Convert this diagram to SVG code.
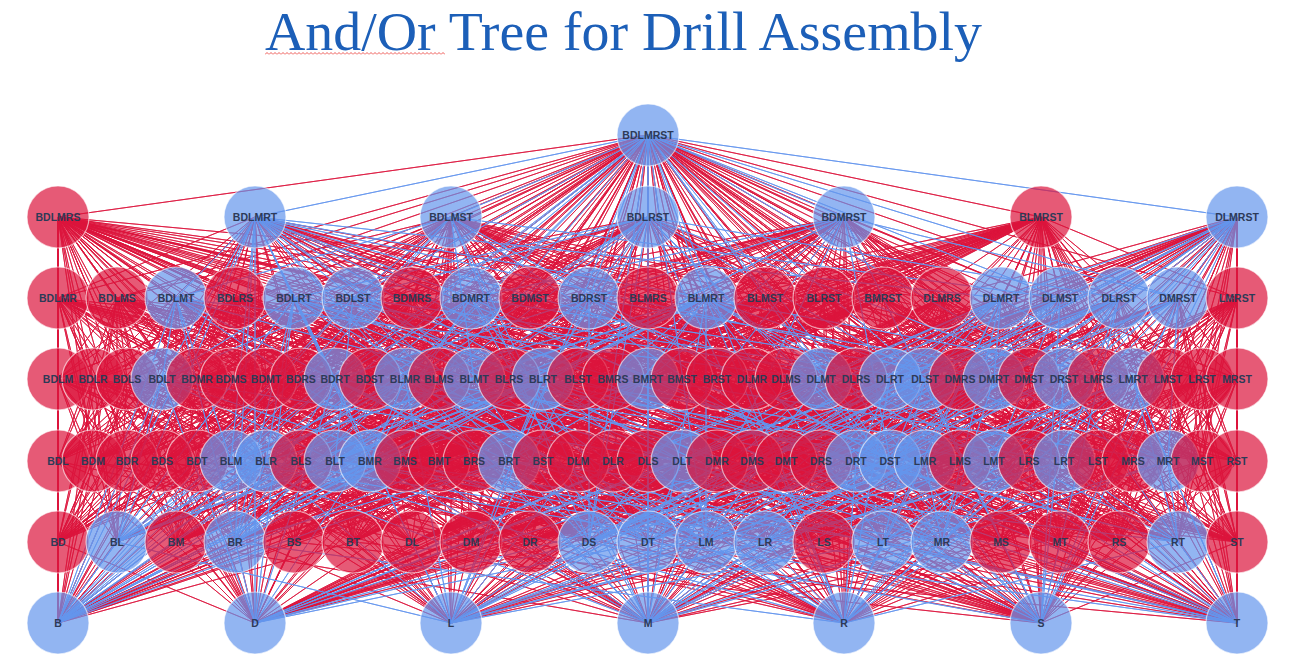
<svg xmlns="http://www.w3.org/2000/svg" width="1291" height="669" viewBox="0 0 1291 669">
<defs>
<style>
path.r{fill:none;stroke:#dc143c;stroke-width:1;stroke-opacity:.8;stroke-linejoin:round}
path.b{fill:none;stroke:#6495ed;stroke-width:1;stroke-opacity:.85;stroke-linejoin:round}
g.nr circle{fill:#dc143c;fill-opacity:.7;stroke:#fff;stroke-opacity:.6;stroke-width:1.2}
g.nb circle{fill:#6495ed;fill-opacity:.7;stroke:#fff;stroke-opacity:.6;stroke-width:1.2}
#labels text{font-family:"Liberation Sans",Arial,sans-serif;font-weight:bold;font-size:10.5px;fill:#2d3a57;text-anchor:middle}
.title{font-family:"Liberation Serif","Times New Roman",serif;font-size:55px;fill:#1c5fb8}
</style>
<pattern id="sq" x="265" y="52" width="4" height="3" patternUnits="userSpaceOnUse"><path d="M0 2.5L2 0.5L4 2.5" fill="none" stroke="#e8302a" stroke-width=".8"/></pattern>
</defs>
<rect width="1291" height="669" fill="#fff"/>
<g id="title">
<text class="title" x="265" y="50" textLength="717" lengthAdjust="spacingAndGlyphs">And/Or Tree for Drill Assembly</text>
<rect x="265" y="52" width="180" height="3" fill="url(#sq)"/>
</g>
<g id="connectors">
<path class="r" d="M648 135L58 217ZL1041 217ZL58 298ZL117 298ZL176 298ZL235 298ZL294 298ZL412 298ZL471 298ZL530 298ZL648 298ZL765 298ZL824 298ZL883 298ZL942 298ZL1001 298ZL1119 298ZL1237 298ZL58 379ZL93 379ZL127 379ZL162 379ZL197 379ZL231 379ZL266 379ZL301 379ZL335 379ZL370 379ZL439 379ZL474 379ZL509 379ZL543 379ZL578 379ZL613 379ZL648 379ZL682 379ZL717 379ZL752 379ZL786 379ZL821 379ZL856 379ZL890 379ZL960 379ZL994 379ZL1029 379ZL1098 379ZL1133 379ZL1168 379ZL1202 379ZL1237 379ZL58 461ZL93 461ZL127 461ZL162 461ZL197 461ZL266 461ZL301 461ZL335 461ZL405 461ZL439 461ZL474 461ZL509 461ZL543 461ZL578 461ZL613 461ZL648 461ZL682 461ZL717 461ZL752 461ZL786 461ZL821 461ZL856 461ZL925 461ZL960 461ZL994 461ZL1029 461ZL1064 461ZL1098 461ZL1133 461ZL1168 461ZL1202 461ZL1237 461ZL58 542ZL176 542ZL294 542ZL353 542ZL412 542ZL471 542ZL530 542ZL648 542ZL765 542ZL824 542ZL883 542ZL1001 542ZL1060 542ZL1119 542ZL1178 542ZL1237 542ZL255 623ZL1237 623Z"/>
<path class="r" d="M58 217L58 298ZL117 298ZL235 298ZL412 298ZL648 298ZL942 298ZL58 379ZL93 379ZL127 379ZL197 379ZL231 379ZL301 379ZL405 379ZL439 379ZL509 379ZL613 379ZL752 379ZL786 379ZL856 379ZL960 379ZL1098 379ZL58 461ZL93 461ZL127 461ZL162 461ZL231 461ZL266 461ZL301 461ZL370 461ZL405 461ZL474 461ZL578 461ZL613 461ZL648 461ZL717 461ZL752 461ZL821 461ZL925 461ZL960 461ZL1029 461ZL1133 461ZL58 542ZL117 542ZL176 542ZL235 542ZL294 542ZL412 542ZL471 542ZL530 542ZL589 542ZL706 542ZL765 542ZL824 542ZL942 542ZL1001 542ZL1119 542ZL58 623ZL255 623ZL451 623ZL648 623ZL844 623ZL1041 623Z
M1041 217L648 298ZL706 298ZL765 298ZL824 298ZL883 298ZL1237 298ZL405 379ZL439 379ZL474 379ZL509 379ZL543 379ZL578 379ZL613 379ZL648 379ZL682 379ZL717 379ZL1098 379ZL1133 379ZL1168 379ZL1202 379ZL1237 379ZL231 461ZL266 461ZL301 461ZL335 461ZL370 461ZL405 461ZL439 461ZL474 461ZL509 461ZL543 461ZL925 461ZL960 461ZL994 461ZL1029 461ZL1064 461ZL1098 461ZL1133 461ZL1168 461ZL1202 461ZL1237 461ZL117 542ZL176 542ZL235 542ZL294 542ZL353 542ZL706 542ZL765 542ZL824 542ZL883 542ZL942 542ZL1001 542ZL1060 542ZL1119 542ZL1178 542ZL1237 542ZL58 623ZL451 623ZL648 623ZL844 623ZL1041 623ZL1237 623Z
M255 217L58 298ZL58 379ZL93 379ZL197 379ZL266 379ZL474 379ZL543 379ZL648 379ZL752 379ZL890 379ZL1133 379ZL58 461ZL93 461ZL127 461ZL197 461ZL266 461ZL335 461ZL439 461ZL509 461ZL578 461ZL613 461ZL717 461ZL786 461ZL925 461ZL994 461ZL1064 461ZL1168 461ZL58 542ZL176 542ZL353 542ZL412 542ZL471 542ZL530 542ZL765 542ZL883 542ZL1060 542ZL1178 542ZL1237 623Z
M451 217L117 298ZL530 298ZL765 298ZL58 379ZL127 379ZL162 379ZL231 379ZL266 379ZL370 379ZL439 379ZL578 379ZL682 379ZL786 379ZL821 379ZL925 379ZL1029 379ZL1168 379ZL58 461ZL93 461ZL162 461ZL197 461ZL301 461ZL335 461ZL405 461ZL439 461ZL543 461ZL578 461ZL648 461ZL682 461ZL752 461ZL786 461ZL960 461ZL994 461ZL1098 461ZL1202 461ZL58 542ZL117 542ZL176 542ZL294 542ZL353 542ZL412 542ZL471 542ZL648 542ZL706 542ZL824 542ZL883 542ZL1001 542ZL1060 542ZL1237 542ZL255 623ZL451 623ZL1237 623Z
M648 217L235 298ZL824 298ZL93 379ZL127 379ZL162 379ZL301 379ZL335 379ZL370 379ZL509 379ZL578 379ZL717 379ZL856 379ZL890 379ZL1202 379ZL58 461ZL127 461ZL162 461ZL197 461ZL301 461ZL335 461ZL474 461ZL509 461ZL543 461ZL613 461ZL648 461ZL682 461ZL821 461ZL856 461ZL1029 461ZL1064 461ZL1098 461ZL1237 461ZL58 542ZL294 542ZL353 542ZL412 542ZL530 542ZL648 542ZL765 542ZL824 542ZL883 542ZL1119 542ZL1178 542ZL1237 542ZL255 623ZL1237 623Z
M844 217L412 298ZL530 298ZL883 298ZL197 379ZL231 379ZL266 379ZL301 379ZL335 379ZL370 379ZL613 379ZL682 379ZL717 379ZL960 379ZL994 379ZL1029 379ZL1064 379ZL1237 379ZL93 461ZL127 461ZL162 461ZL197 461ZL405 461ZL439 461ZL474 461ZL509 461ZL543 461ZL717 461ZL752 461ZL786 461ZL821 461ZL856 461ZL1133 461ZL1168 461ZL1202 461ZL1237 461ZL58 542ZL176 542ZL235 542ZL294 542ZL353 542ZL471 542ZL530 542ZL648 542ZL942 542ZL1001 542ZL1060 542ZL1119 542ZL1178 542ZL1237 542ZL255 623ZL844 623ZL1237 623Z
M1237 217L942 298ZL1237 298ZL752 379ZL786 379ZL821 379ZL856 379ZL890 379ZL960 379ZL994 379ZL1029 379ZL1098 379ZL1168 379ZL1202 379ZL1237 379ZL578 461ZL613 461ZL648 461ZL682 461ZL717 461ZL752 461ZL786 461ZL821 461ZL856 461ZL960 461ZL994 461ZL1029 461ZL1064 461ZL1098 461ZL1133 461ZL1168 461ZL1202 461ZL1237 461ZL412 542ZL471 542ZL530 542ZL648 542ZL765 542ZL824 542ZL883 542ZL1001 542ZL1060 542ZL1119 542ZL1178 542ZL1237 542ZL255 623ZL1237 623Z"/>
<path class="r" d="M58 298L58 379ZL93 379ZL197 379ZL405 379ZL752 379ZL58 461ZL93 461ZL127 461ZL231 461ZL266 461ZL370 461ZL578 461ZL613 461ZL717 461ZL925 461ZL58 542ZL117 542ZL176 542ZL235 542ZL412 542ZL471 542ZL530 542ZL706 542ZL765 542ZL942 542ZL58 623ZL255 623ZL451 623ZL648 623ZL844 623Z
M117 298L58 379ZL127 379ZL231 379ZL439 379ZL786 379ZL58 461ZL93 461ZL162 461ZL231 461ZL301 461ZL405 461ZL578 461ZL648 461ZL752 461ZL960 461ZL58 542ZL117 542ZL176 542ZL294 542ZL412 542ZL471 542ZL589 542ZL706 542ZL824 542ZL1001 542ZL58 623ZL255 623ZL451 623ZL648 623ZL1041 623Z
M176 298L58 379ZL266 379ZL58 461ZL93 461ZL197 461ZL335 461ZL439 461ZL578 461ZL682 461ZL786 461ZL994 461ZL58 542ZL117 542ZL176 542ZL353 542ZL412 542ZL471 542ZL706 542ZL883 542ZL1060 542ZL451 623ZL1237 623Z
M235 298L93 379ZL127 379ZL301 379ZL509 379ZL856 379ZL58 461ZL127 461ZL162 461ZL266 461ZL301 461ZL474 461ZL613 461ZL648 461ZL821 461ZL1029 461ZL58 542ZL117 542ZL235 542ZL294 542ZL412 542ZL530 542ZL589 542ZL765 542ZL824 542ZL1119 542ZL58 623ZL255 623ZL451 623ZL844 623ZL1041 623Z
M294 298L93 379ZL58 461ZL127 461ZL197 461ZL335 461ZL509 461ZL613 461ZL1064 461ZL58 542ZL353 542ZL412 542ZL530 542ZL765 542ZL883 542ZL1178 542ZL1237 623Z
M353 298L127 379ZL370 379ZL578 379ZL58 461ZL162 461ZL197 461ZL301 461ZL543 461ZL648 461ZL682 461ZL1098 461ZL58 542ZL294 542ZL353 542ZL412 542ZL648 542ZL824 542ZL883 542ZL1237 542ZL255 623ZL451 623ZL1237 623Z
M412 298L197 379ZL231 379ZL301 379ZL613 379ZL960 379ZL93 461ZL127 461ZL162 461ZL370 461ZL405 461ZL474 461ZL717 461ZL752 461ZL821 461ZL1133 461ZL58 542ZL176 542ZL235 542ZL294 542ZL471 542ZL530 542ZL589 542ZL942 542ZL1001 542ZL1119 542ZL58 623ZL255 623ZL648 623ZL844 623ZL1041 623Z
M471 298L197 379ZL266 379ZL93 461ZL127 461ZL197 461ZL439 461ZL509 461ZL717 461ZL786 461ZL856 461ZL1168 461ZL58 542ZL176 542ZL235 542ZL353 542ZL471 542ZL530 542ZL942 542ZL1060 542ZL1178 542ZL844 623ZL1237 623Z
M530 298L231 379ZL266 379ZL370 379ZL682 379ZL1029 379ZL93 461ZL162 461ZL197 461ZL405 461ZL439 461ZL543 461ZL752 461ZL786 461ZL890 461ZL1202 461ZL58 542ZL176 542ZL294 542ZL353 542ZL471 542ZL589 542ZL648 542ZL1001 542ZL1060 542ZL1237 542ZL58 623ZL255 623ZL648 623ZL1041 623ZL1237 623Z
M589 298L301 379ZL370 379ZL717 379ZL127 461ZL162 461ZL197 461ZL474 461ZL543 461ZL821 461ZL856 461ZL1237 461ZL58 542ZL294 542ZL353 542ZL530 542ZL648 542ZL1119 542ZL1178 542ZL1237 542ZL255 623ZL844 623ZL1237 623Z
M648 298L405 379ZL439 379ZL509 379ZL613 379ZL1098 379ZL231 461ZL266 461ZL301 461ZL370 461ZL405 461ZL474 461ZL925 461ZL960 461ZL1029 461ZL1133 461ZL117 542ZL176 542ZL235 542ZL294 542ZL706 542ZL765 542ZL824 542ZL942 542ZL1001 542ZL1119 542ZL58 623ZL451 623ZL648 623ZL844 623ZL1041 623Z
M706 298L266 461ZL439 461ZL925 461ZL1064 461ZL176 542ZL353 542ZL765 542ZL1060 542Z
M765 298L439 379ZL474 379ZL578 379ZL682 379ZL1168 379ZL231 461ZL301 461ZL335 461ZL405 461ZL439 461ZL543 461ZL960 461ZL994 461ZL1098 461ZL1202 461ZL117 542ZL176 542ZL294 542ZL353 542ZL706 542ZL824 542ZL883 542ZL1001 542ZL1060 542ZL1237 542ZL58 623ZL451 623ZL648 623ZL1041 623ZL1237 623Z
M824 298L509 379ZL543 379ZL578 379ZL717 379ZL1202 379ZL266 461ZL301 461ZL335 461ZL474 461ZL509 461ZL543 461ZL1029 461ZL1064 461ZL1098 461ZL1237 461ZL117 542ZL235 542ZL294 542ZL353 542ZL765 542ZL824 542ZL883 542ZL1119 542ZL1178 542ZL1237 542ZL58 623ZL451 623ZL844 623ZL1041 623ZL1237 623Z
M883 298L613 379ZL648 379ZL682 379ZL717 379ZL1237 379ZL370 461ZL405 461ZL439 461ZL474 461ZL509 461ZL543 461ZL1133 461ZL1168 461ZL1202 461ZL1237 461ZL176 542ZL235 542ZL294 542ZL353 542ZL942 542ZL1001 542ZL1060 542ZL1119 542ZL1178 542ZL1237 542ZL58 623ZL648 623ZL844 623ZL1041 623ZL1237 623Z
M942 298L752 379ZL786 379ZL856 379ZL960 379ZL1098 379ZL578 461ZL613 461ZL648 461ZL717 461ZL752 461ZL821 461ZL925 461ZL960 461ZL1029 461ZL1133 461ZL412 542ZL471 542ZL530 542ZL589 542ZL706 542ZL765 542ZL824 542ZL942 542ZL1001 542ZL1119 542ZL255 623ZL451 623ZL648 623ZL844 623ZL1041 623Z
M1001 298L752 379ZL578 461ZL613 461ZL717 461ZL786 461ZL994 461ZL1064 461ZL1168 461ZL412 542ZL471 542ZL530 542ZL765 542ZL883 542ZL1060 542ZL1178 542ZL1237 623Z
M1060 298L786 379ZL1029 379ZL1168 379ZL578 461ZL648 461ZL682 461ZL752 461ZL786 461ZL960 461ZL1098 461ZL1202 461ZL412 542ZL471 542ZL648 542ZL824 542ZL883 542ZL1001 542ZL1060 542ZL1237 542ZL255 623ZL451 623ZL1237 623Z
M1119 298L856 379ZL1202 379ZL613 461ZL648 461ZL682 461ZL821 461ZL856 461ZL1029 461ZL1098 461ZL1237 461ZL412 542ZL530 542ZL648 542ZL824 542ZL883 542ZL1119 542ZL1178 542ZL1237 542ZL255 623ZL1237 623Z
M1178 298L960 379ZL1029 379ZL1237 379ZL717 461ZL752 461ZL786 461ZL821 461ZL856 461ZL1133 461ZL1202 461ZL1237 461ZL471 542ZL530 542ZL648 542ZL1001 542ZL1060 542ZL1119 542ZL1178 542ZL1237 542ZL255 623ZL844 623ZL1237 623Z
M1237 298L1098 379ZL1133 379ZL1168 379ZL1202 379ZL1237 379ZL925 461ZL960 461ZL994 461ZL1029 461ZL1064 461ZL1098 461ZL1133 461ZL1168 461ZL1202 461ZL1237 461ZL706 542ZL765 542ZL824 542ZL883 542ZL942 542ZL1001 542ZL1060 542ZL1119 542ZL1178 542ZL1237 542ZL451 623ZL648 623ZL844 623ZL1041 623ZL1237 623Z"/>
<path class="r" d="M58 379L58 461ZL93 461ZL231 461ZL578 461ZL58 542ZL117 542ZL176 542ZL412 542ZL471 542ZL706 542ZL58 623ZL255 623ZL451 623ZL648 623Z
M93 379L58 461ZL127 461ZL266 461ZL613 461ZL58 542ZL117 542ZL235 542ZL412 542ZL530 542ZL765 542ZL58 623ZL255 623ZL451 623ZL844 623Z
M127 379L58 461ZL162 461ZL301 461ZL648 461ZL58 542ZL117 542ZL294 542ZL412 542ZL589 542ZL824 542ZL58 623ZL255 623ZL451 623ZL1041 623Z
M162 379L58 461ZL197 461ZL58 542ZL883 542ZL353 542ZL412 542ZL1237 623ZL451 623Z
M197 379L93 461ZL127 461ZL370 461ZL717 461ZL58 542ZL176 542ZL235 542ZL471 542ZL530 542ZL942 542ZL58 623ZL255 623ZL648 623ZL844 623Z
M231 379L93 461ZL162 461ZL405 461ZL752 461ZL58 542ZL176 542ZL294 542ZL471 542ZL589 542ZL1001 542ZL58 623ZL255 623ZL648 623ZL1041 623Z
M266 379L93 461ZL197 461ZL439 461ZL786 461ZL58 542ZL176 542ZL353 542ZL471 542ZL648 542ZL1060 542ZL58 623ZL255 623ZL648 623ZL1237 623Z
M301 379L127 461ZL162 461ZL474 461ZL821 461ZL58 542ZL235 542ZL294 542ZL530 542ZL589 542ZL1119 542ZL58 623ZL255 623ZL844 623ZL1041 623Z
M335 379L127 461ZL197 461ZL58 542ZL1178 542ZL353 542ZL530 542ZL1237 623ZL844 623Z
M370 379L162 461ZL197 461ZL543 461ZL890 461ZL58 542ZL294 542ZL353 542ZL589 542ZL648 542ZL1237 542ZL58 623ZL255 623ZL1041 623ZL1237 623Z
M405 379L176 542ZL765 542Z
M439 379L231 461ZL301 461ZL405 461ZL960 461ZL117 542ZL176 542ZL294 542ZL706 542ZL824 542ZL1001 542ZL58 623ZL451 623ZL648 623ZL1041 623Z
M474 379L439 461ZL117 542ZL1060 542ZL176 542ZL883 542ZL353 542ZL706 542ZL451 623Z
M509 379L266 461ZL301 461ZL474 461ZL1029 461ZL117 542ZL235 542ZL294 542ZL765 542ZL824 542ZL1119 542ZL58 623ZL451 623ZL844 623ZL1041 623Z
M543 379L353 542ZL765 542Z
M578 379L301 461ZL335 461ZL543 461ZL1098 461ZL117 542ZL294 542ZL353 542ZL824 542ZL883 542ZL1237 542ZL58 623ZL451 623ZL1041 623ZL1237 623Z
M613 379L370 461ZL405 461ZL474 461ZL1133 461ZL176 542ZL235 542ZL294 542ZL942 542ZL1001 542ZL1119 542ZL58 623ZL648 623ZL844 623ZL1041 623Z
M648 379L439 461ZL176 542ZL1178 542ZL235 542ZL1060 542ZL353 542ZL942 542ZL844 623Z
M682 379L405 461ZL439 461ZL543 461ZL1202 461ZL176 542ZL294 542ZL353 542ZL1001 542ZL1060 542ZL1237 542ZL58 623ZL648 623ZL1041 623ZL1237 623Z
M717 379L474 461ZL509 461ZL543 461ZL1237 461ZL235 542ZL294 542ZL353 542ZL1119 542ZL1178 542ZL1237 542ZL58 623ZL844 623ZL1041 623ZL1237 623Z
M752 379L578 461ZL613 461ZL717 461ZL925 461ZL412 542ZL471 542ZL530 542ZL706 542ZL765 542ZL942 542ZL255 623ZL451 623ZL648 623ZL844 623Z
M786 379L578 461ZL648 461ZL752 461ZL960 461ZL412 542ZL471 542ZL589 542ZL706 542ZL824 542ZL1001 542ZL255 623ZL451 623ZL648 623ZL1041 623Z
M821 379L578 461ZL786 461ZL412 542ZL1060 542ZL471 542ZL883 542ZL1237 623ZL451 623Z
M856 379L613 461ZL648 461ZL821 461ZL1029 461ZL412 542ZL530 542ZL589 542ZL765 542ZL824 542ZL1119 542ZL255 623ZL451 623ZL844 623ZL1041 623Z
M890 379L613 461ZL412 542ZL1178 542ZL530 542ZL883 542ZL1237 623Z
M925 379L648 461ZL1098 461ZL412 542ZL1237 542ZL648 542ZL824 542ZL1237 623ZL255 623Z
M960 379L717 461ZL752 461ZL821 461ZL1133 461ZL471 542ZL530 542ZL589 542ZL942 542ZL1001 542ZL1119 542ZL255 623ZL648 623ZL844 623ZL1041 623Z
M994 379L717 461ZL786 461ZL471 542ZL1178 542ZL530 542ZL1060 542ZL1237 623ZL844 623Z
M1029 379L752 461ZL786 461ZL890 461ZL1202 461ZL471 542ZL589 542ZL648 542ZL1001 542ZL1060 542ZL1237 542ZL255 623ZL648 623ZL1041 623ZL1237 623Z
M1064 379L821 461ZL1237 461ZL530 542ZL1237 542ZL648 542ZL1119 542ZL1237 623ZL255 623Z
M1098 379L925 461ZL960 461ZL1029 461ZL1133 461ZL706 542ZL765 542ZL824 542ZL942 542ZL1001 542ZL1119 542ZL451 623ZL648 623ZL844 623ZL1041 623Z
M1133 379L765 542ZL1060 542Z
M1168 379L960 461ZL994 461ZL1098 461ZL1202 461ZL706 542ZL824 542ZL883 542ZL1001 542ZL1060 542ZL1237 542ZL451 623ZL648 623ZL1041 623ZL1237 623Z
M1202 379L1029 461ZL1064 461ZL1098 461ZL1237 461ZL765 542ZL824 542ZL883 542ZL1119 542ZL1178 542ZL1237 542ZL451 623ZL844 623ZL1041 623ZL1237 623Z
M1237 379L1133 461ZL1168 461ZL1202 461ZL1237 461ZL942 542ZL1001 542ZL1060 542ZL1119 542ZL1178 542ZL1237 542ZL648 623ZL844 623ZL1041 623ZL1237 623Z"/>
<path class="r" d="M58 461L58 542ZL117 542ZL412 542ZL58 623ZL255 623ZL451 623ZM93 461L58 542ZL176 542ZL471 542ZL58 623ZL255 623ZL648 623ZM127 461L58 542ZL235 542ZL530 542ZL58 623ZL255 623ZL844 623ZM162 461L58 542ZL294 542ZL589 542ZL58 623ZL255 623ZL1041 623ZM197 461L58 542ZL353 542ZL648 542ZL58 623ZL255 623ZL1237 623ZM231 461L176 542ZL451 623ZM301 461L117 542ZL294 542ZL824 542ZL58 623ZL451 623ZL1041 623ZM335 461L353 542ZL451 623ZM370 461L176 542ZL844 623ZM405 461L176 542ZL294 542ZL1001 542ZL58 623ZL648 623ZL1041 623ZM439 461L176 542ZL353 542ZL1060 542ZL58 623ZL648 623ZL1237 623ZM474 461L235 542ZL294 542ZL1119 542ZL58 623ZL844 623ZL1041 623ZM509 461L353 542ZL844 623ZM543 461L294 542ZL353 542ZL1237 542ZL58 623ZL1041 623ZL1237 623ZM578 461L412 542ZL471 542ZL706 542ZL255 623ZL451 623ZL648 623ZM613 461L412 542ZL530 542ZL765 542ZL255 623ZL451 623ZL844 623ZM648 461L412 542ZL589 542ZL824 542ZL255 623ZL451 623ZL1041 623ZM682 461L412 542ZL1237 623ZM717 461L471 542ZL530 542ZL942 542ZL255 623ZL648 623ZL844 623ZM752 461L471 542ZL589 542ZL1001 542ZL255 623ZL648 623ZL1041 623ZM786 461L471 542ZL648 542ZL1060 542ZL255 623ZL648 623ZL1237 623ZM821 461L530 542ZL589 542ZL1119 542ZL255 623ZL844 623ZL1041 623ZM856 461L530 542ZL1237 623ZM890 461L1237 542ZL255 623ZM960 461L706 542ZL824 542ZL1001 542ZL451 623ZL648 623ZL1041 623ZM994 461L1060 542ZL451 623ZM1029 461L765 542ZL824 542ZL1119 542ZL451 623ZL844 623ZL1041 623ZM1098 461L824 542ZL883 542ZL1237 542ZL451 623ZL1041 623ZL1237 623ZM1133 461L942 542ZL1001 542ZL1119 542ZL648 623ZL844 623ZL1041 623ZM1168 461L1060 542ZL844 623ZM1202 461L1001 542ZL1060 542ZL1237 542ZL648 623ZL1041 623ZL1237 623ZM1237 461L1119 542ZL1178 542ZL1237 542ZL844 623ZL1041 623ZL1237 623Z"/>
<path class="r" d="M58 542L58 623ZL255 623ZM176 542L58 623ZL648 623ZM294 542L58 623ZL1041 623ZM353 542L58 623ZL1237 623ZM412 542L255 623ZL451 623ZM471 542L255 623ZL648 623ZM530 542L255 623ZL844 623ZM824 542L451 623ZL1041 623ZM1001 542L648 623ZL1041 623ZM1060 542L648 623ZL1237 623ZM1119 542L844 623ZL1041 623ZM1237 542L1041 623ZL1237 623Z"/>
<path class="b" d="M648 135L255 217ZL451 217ZL648 217ZL844 217ZL1237 217ZL353 298ZL589 298ZL706 298ZL1060 298ZL1178 298ZL405 379ZL925 379ZL1064 379ZL231 461ZL370 461ZL890 461ZL117 542ZL235 542ZL589 542ZL706 542ZL942 542ZL58 623ZL451 623ZL648 623ZL844 623ZL1041 623Z"/>
<path class="b" d="M255 217L176 298ZL294 298ZL471 298ZL706 298ZL1001 298ZL162 379ZL335 379ZL405 379ZL821 379ZL994 379ZL231 461ZL370 461ZL682 461ZL856 461ZL117 542ZL235 542ZL648 542ZL706 542ZL942 542ZL58 623ZL255 623ZL451 623ZL648 623ZL844 623Z
M451 217L176 298ZL353 298ZL1060 298ZL474 379ZL231 461ZL890 461ZL589 542ZL58 623ZL648 623ZL1041 623Z
M648 217L294 298ZL353 298ZL589 298ZL1119 298ZL543 379ZL925 379ZL1064 379ZL266 461ZL890 461ZL117 542ZL235 542ZL589 542ZL58 623ZL451 623ZL844 623ZL1041 623Z
M844 217L471 298ZL589 298ZL1178 298ZL648 379ZL370 461ZL890 461ZL589 542ZL58 623ZL648 623ZL1041 623Z
M1237 217L1001 298ZL1060 298ZL1119 298ZL1178 298ZL925 379ZL1064 379ZL1133 379ZL890 461ZL925 461ZL589 542ZL706 542ZL942 542ZL451 623ZL648 623ZL844 623ZL1041 623Z"/>
<path class="b" d="M176 298L162 379ZL474 379ZL821 379ZL231 461ZL648 542ZL58 623ZL255 623ZL648 623Z
M294 298L162 379ZL335 379ZL543 379ZL890 379ZL266 461ZL682 461ZL856 461ZL117 542ZL235 542ZL648 542ZL58 623ZL255 623ZL451 623ZL844 623Z
M353 298L162 379ZL925 379ZL335 461ZL890 461ZL117 542ZL589 542ZL58 623ZL1041 623Z
M471 298L335 379ZL648 379ZL994 379ZL370 461ZL648 542ZL58 623ZL255 623ZL648 623Z
M589 298L335 379ZL1064 379ZL509 461ZL890 461ZL235 542ZL589 542ZL58 623ZL1041 623Z
M706 298L405 379ZL474 379ZL543 379ZL648 379ZL1133 379ZL231 461ZL335 461ZL370 461ZL509 461ZL994 461ZL1168 461ZL117 542ZL235 542ZL706 542ZL883 542ZL942 542ZL1178 542ZL58 623ZL451 623ZL648 623ZL844 623ZL1237 623Z
M1001 298L821 379ZL890 379ZL994 379ZL1133 379ZL682 461ZL856 461ZL925 461ZL648 542ZL706 542ZL942 542ZL255 623ZL451 623ZL648 623ZL844 623Z
M1060 298L821 379ZL925 379ZL890 461ZL994 461ZL589 542ZL706 542ZL648 623ZL1041 623Z
M1119 298L890 379ZL925 379ZL1064 379ZL890 461ZL1064 461ZL589 542ZL765 542ZL451 623ZL844 623ZL1041 623Z
M1178 298L994 379ZL1064 379ZL890 461ZL1168 461ZL589 542ZL942 542ZL648 623ZL1041 623Z"/>
<path class="b" d="M162 379L335 461ZL682 461ZL117 542ZL648 542ZL255 623ZL58 623Z
M335 379L509 461ZL856 461ZL235 542ZL648 542ZL255 623ZL58 623Z
M405 379L231 461ZL266 461ZL370 461ZL925 461ZL117 542ZL942 542ZL235 542ZL706 542ZL844 623ZL648 623ZL451 623ZL58 623Z
M474 379L231 461ZL335 461ZL994 461ZL1237 623ZL648 623ZL58 623Z
M543 379L266 461ZL335 461ZL509 461ZL1064 461ZL117 542ZL1178 542ZL235 542ZL883 542ZL1237 623ZL844 623ZL451 623ZL58 623Z
M648 379L370 461ZL509 461ZL1168 461ZL1237 623ZL648 623ZL58 623Z
M821 379L682 461ZL994 461ZL648 542ZL706 542ZL648 623ZL255 623Z
M890 379L682 461ZL856 461ZL1064 461ZL648 542ZL765 542ZL844 623ZL451 623ZL255 623Z
M925 379L682 461ZL890 461ZL589 542ZL883 542ZL1041 623ZL451 623Z
M994 379L856 461ZL1168 461ZL648 542ZL942 542ZL648 623ZL255 623Z
M1064 379L856 461ZL890 461ZL589 542ZL1178 542ZL1041 623ZL844 623Z
M1133 379L925 461ZL994 461ZL1064 461ZL1168 461ZL706 542ZL1178 542ZL883 542ZL942 542ZL1237 623ZL844 623ZL648 623ZL451 623Z"/>
<path class="b" d="M231 461L117 542ZL706 542ZL648 623ZL58 623ZM266 461L117 542ZL235 542ZL765 542ZL844 623ZL451 623ZL58 623ZM335 461L117 542ZL883 542ZL1237 623ZL58 623ZM370 461L235 542ZL942 542ZL648 623ZL58 623ZM509 461L235 542ZL1178 542ZL1237 623ZL58 623ZM682 461L648 542ZL883 542ZL451 623ZL255 623ZM856 461L648 542ZL1178 542ZL844 623ZL255 623ZM890 461L589 542ZL648 542ZL1237 623ZL1041 623ZM925 461L706 542ZL765 542ZL942 542ZL844 623ZL648 623ZL451 623ZM994 461L706 542ZL883 542ZL1237 623ZL648 623ZM1064 461L765 542ZL883 542ZL1178 542ZL1237 623ZL844 623ZL451 623ZM1168 461L942 542ZL1178 542ZL1237 623ZL648 623Z"/>
<path class="b" d="M117 542L58 623ZL451 623ZM235 542L58 623ZL844 623ZM589 542L255 623ZL1041 623ZM648 542L255 623ZL1237 623ZM706 542L451 623ZL648 623ZM765 542L451 623ZL844 623ZM883 542L451 623ZL1237 623ZM942 542L648 623ZL844 623ZM1178 542L844 623ZL1237 623Z"/>
</g>
<g id="nodes">
<g id="n-BDLMRST" class="nb"><circle cx="648" cy="135" r="31"/></g>
<g id="n-BDLMRS" class="nr"><circle cx="58" cy="217" r="31"/></g>
<g id="n-BDLMRT" class="nb"><circle cx="255" cy="217" r="31"/></g>
<g id="n-BDLMST" class="nb"><circle cx="451" cy="217" r="31"/></g>
<g id="n-BDLRST" class="nb"><circle cx="648" cy="217" r="31"/></g>
<g id="n-BDMRST" class="nb"><circle cx="844" cy="217" r="31"/></g>
<g id="n-BLMRST" class="nr"><circle cx="1041" cy="217" r="31"/></g>
<g id="n-DLMRST" class="nb"><circle cx="1237" cy="217" r="31"/></g>
<g id="n-BDLMR" class="nr"><circle cx="58" cy="298" r="31"/></g>
<g id="n-BDLMS" class="nr"><circle cx="117" cy="298" r="31"/></g>
<g id="n-BDLMT" class="nb"><circle cx="176" cy="298" r="31"/></g>
<g id="n-BDLRS" class="nr"><circle cx="235" cy="298" r="31"/></g>
<g id="n-BDLRT" class="nb"><circle cx="294" cy="298" r="31"/></g>
<g id="n-BDLST" class="nb"><circle cx="353" cy="298" r="31"/></g>
<g id="n-BDMRS" class="nr"><circle cx="412" cy="298" r="31"/></g>
<g id="n-BDMRT" class="nb"><circle cx="471" cy="298" r="31"/></g>
<g id="n-BDMST" class="nr"><circle cx="530" cy="298" r="31"/></g>
<g id="n-BDRST" class="nb"><circle cx="589" cy="298" r="31"/></g>
<g id="n-BLMRS" class="nr"><circle cx="648" cy="298" r="31"/></g>
<g id="n-BLMRT" class="nb"><circle cx="706" cy="298" r="31"/></g>
<g id="n-BLMST" class="nr"><circle cx="765" cy="298" r="31"/></g>
<g id="n-BLRST" class="nr"><circle cx="824" cy="298" r="31"/></g>
<g id="n-BMRST" class="nr"><circle cx="883" cy="298" r="31"/></g>
<g id="n-DLMRS" class="nr"><circle cx="942" cy="298" r="31"/></g>
<g id="n-DLMRT" class="nb"><circle cx="1001" cy="298" r="31"/></g>
<g id="n-DLMST" class="nb"><circle cx="1060" cy="298" r="31"/></g>
<g id="n-DLRST" class="nb"><circle cx="1119" cy="298" r="31"/></g>
<g id="n-DMRST" class="nb"><circle cx="1178" cy="298" r="31"/></g>
<g id="n-LMRST" class="nr"><circle cx="1237" cy="298" r="31"/></g>
<g id="n-BDLM" class="nr"><circle cx="58" cy="379" r="31"/></g>
<g id="n-BDLR" class="nr"><circle cx="93" cy="379" r="31"/></g>
<g id="n-BDLS" class="nr"><circle cx="127" cy="379" r="31"/></g>
<g id="n-BDLT" class="nb"><circle cx="162" cy="379" r="31"/></g>
<g id="n-BDMR" class="nr"><circle cx="197" cy="379" r="31"/></g>
<g id="n-BDMS" class="nr"><circle cx="231" cy="379" r="31"/></g>
<g id="n-BDMT" class="nr"><circle cx="266" cy="379" r="31"/></g>
<g id="n-BDRS" class="nr"><circle cx="301" cy="379" r="31"/></g>
<g id="n-BDRT" class="nb"><circle cx="335" cy="379" r="31"/></g>
<g id="n-BDST" class="nr"><circle cx="370" cy="379" r="31"/></g>
<g id="n-BLMR" class="nb"><circle cx="405" cy="379" r="31"/></g>
<g id="n-BLMS" class="nr"><circle cx="439" cy="379" r="31"/></g>
<g id="n-BLMT" class="nb"><circle cx="474" cy="379" r="31"/></g>
<g id="n-BLRS" class="nr"><circle cx="509" cy="379" r="31"/></g>
<g id="n-BLRT" class="nb"><circle cx="543" cy="379" r="31"/></g>
<g id="n-BLST" class="nr"><circle cx="578" cy="379" r="31"/></g>
<g id="n-BMRS" class="nr"><circle cx="613" cy="379" r="31"/></g>
<g id="n-BMRT" class="nb"><circle cx="648" cy="379" r="31"/></g>
<g id="n-BMST" class="nr"><circle cx="682" cy="379" r="31"/></g>
<g id="n-BRST" class="nr"><circle cx="717" cy="379" r="31"/></g>
<g id="n-DLMR" class="nr"><circle cx="752" cy="379" r="31"/></g>
<g id="n-DLMS" class="nr"><circle cx="786" cy="379" r="31"/></g>
<g id="n-DLMT" class="nb"><circle cx="821" cy="379" r="31"/></g>
<g id="n-DLRS" class="nr"><circle cx="856" cy="379" r="31"/></g>
<g id="n-DLRT" class="nb"><circle cx="890" cy="379" r="31"/></g>
<g id="n-DLST" class="nb"><circle cx="925" cy="379" r="31"/></g>
<g id="n-DMRS" class="nr"><circle cx="960" cy="379" r="31"/></g>
<g id="n-DMRT" class="nb"><circle cx="994" cy="379" r="31"/></g>
<g id="n-DMST" class="nr"><circle cx="1029" cy="379" r="31"/></g>
<g id="n-DRST" class="nb"><circle cx="1064" cy="379" r="31"/></g>
<g id="n-LMRS" class="nr"><circle cx="1098" cy="379" r="31"/></g>
<g id="n-LMRT" class="nb"><circle cx="1133" cy="379" r="31"/></g>
<g id="n-LMST" class="nr"><circle cx="1168" cy="379" r="31"/></g>
<g id="n-LRST" class="nr"><circle cx="1202" cy="379" r="31"/></g>
<g id="n-MRST" class="nr"><circle cx="1237" cy="379" r="31"/></g>
<g id="n-BDL" class="nr"><circle cx="58" cy="461" r="31"/></g>
<g id="n-BDM" class="nr"><circle cx="93" cy="461" r="31"/></g>
<g id="n-BDR" class="nr"><circle cx="127" cy="461" r="31"/></g>
<g id="n-BDS" class="nr"><circle cx="162" cy="461" r="31"/></g>
<g id="n-BDT" class="nr"><circle cx="197" cy="461" r="31"/></g>
<g id="n-BLM" class="nb"><circle cx="231" cy="461" r="31"/></g>
<g id="n-BLR" class="nb"><circle cx="266" cy="461" r="31"/></g>
<g id="n-BLS" class="nr"><circle cx="301" cy="461" r="31"/></g>
<g id="n-BLT" class="nb"><circle cx="335" cy="461" r="31"/></g>
<g id="n-BMR" class="nb"><circle cx="370" cy="461" r="31"/></g>
<g id="n-BMS" class="nr"><circle cx="405" cy="461" r="31"/></g>
<g id="n-BMT" class="nr"><circle cx="439" cy="461" r="31"/></g>
<g id="n-BRS" class="nr"><circle cx="474" cy="461" r="31"/></g>
<g id="n-BRT" class="nb"><circle cx="509" cy="461" r="31"/></g>
<g id="n-BST" class="nr"><circle cx="543" cy="461" r="31"/></g>
<g id="n-DLM" class="nr"><circle cx="578" cy="461" r="31"/></g>
<g id="n-DLR" class="nr"><circle cx="613" cy="461" r="31"/></g>
<g id="n-DLS" class="nr"><circle cx="648" cy="461" r="31"/></g>
<g id="n-DLT" class="nb"><circle cx="682" cy="461" r="31"/></g>
<g id="n-DMR" class="nr"><circle cx="717" cy="461" r="31"/></g>
<g id="n-DMS" class="nr"><circle cx="752" cy="461" r="31"/></g>
<g id="n-DMT" class="nr"><circle cx="786" cy="461" r="31"/></g>
<g id="n-DRS" class="nr"><circle cx="821" cy="461" r="31"/></g>
<g id="n-DRT" class="nb"><circle cx="856" cy="461" r="31"/></g>
<g id="n-DST" class="nb"><circle cx="890" cy="461" r="31"/></g>
<g id="n-LMR" class="nb"><circle cx="925" cy="461" r="31"/></g>
<g id="n-LMS" class="nr"><circle cx="960" cy="461" r="31"/></g>
<g id="n-LMT" class="nb"><circle cx="994" cy="461" r="31"/></g>
<g id="n-LRS" class="nr"><circle cx="1029" cy="461" r="31"/></g>
<g id="n-LRT" class="nb"><circle cx="1064" cy="461" r="31"/></g>
<g id="n-LST" class="nr"><circle cx="1098" cy="461" r="31"/></g>
<g id="n-MRS" class="nr"><circle cx="1133" cy="461" r="31"/></g>
<g id="n-MRT" class="nb"><circle cx="1168" cy="461" r="31"/></g>
<g id="n-MST" class="nr"><circle cx="1202" cy="461" r="31"/></g>
<g id="n-RST" class="nr"><circle cx="1237" cy="461" r="31"/></g>
<g id="n-BD" class="nr"><circle cx="58" cy="542" r="31"/></g>
<g id="n-BL" class="nb"><circle cx="117" cy="542" r="31"/></g>
<g id="n-BM" class="nr"><circle cx="176" cy="542" r="31"/></g>
<g id="n-BR" class="nb"><circle cx="235" cy="542" r="31"/></g>
<g id="n-BS" class="nr"><circle cx="294" cy="542" r="31"/></g>
<g id="n-BT" class="nr"><circle cx="353" cy="542" r="31"/></g>
<g id="n-DL" class="nr"><circle cx="412" cy="542" r="31"/></g>
<g id="n-DM" class="nr"><circle cx="471" cy="542" r="31"/></g>
<g id="n-DR" class="nr"><circle cx="530" cy="542" r="31"/></g>
<g id="n-DS" class="nb"><circle cx="589" cy="542" r="31"/></g>
<g id="n-DT" class="nb"><circle cx="648" cy="542" r="31"/></g>
<g id="n-LM" class="nb"><circle cx="706" cy="542" r="31"/></g>
<g id="n-LR" class="nb"><circle cx="765" cy="542" r="31"/></g>
<g id="n-LS" class="nr"><circle cx="824" cy="542" r="31"/></g>
<g id="n-LT" class="nb"><circle cx="883" cy="542" r="31"/></g>
<g id="n-MR" class="nb"><circle cx="942" cy="542" r="31"/></g>
<g id="n-MS" class="nr"><circle cx="1001" cy="542" r="31"/></g>
<g id="n-MT" class="nr"><circle cx="1060" cy="542" r="31"/></g>
<g id="n-RS" class="nr"><circle cx="1119" cy="542" r="31"/></g>
<g id="n-RT" class="nb"><circle cx="1178" cy="542" r="31"/></g>
<g id="n-ST" class="nr"><circle cx="1237" cy="542" r="31"/></g>
<g id="n-B" class="nb"><circle cx="58" cy="623" r="31"/></g>
<g id="n-D" class="nb"><circle cx="255" cy="623" r="31"/></g>
<g id="n-L" class="nb"><circle cx="451" cy="623" r="31"/></g>
<g id="n-M" class="nb"><circle cx="648" cy="623" r="31"/></g>
<g id="n-R" class="nb"><circle cx="844" cy="623" r="31"/></g>
<g id="n-S" class="nb"><circle cx="1041" cy="623" r="31"/></g>
<g id="n-T" class="nb"><circle cx="1237" cy="623" r="31"/></g>
</g>
<g id="labels">
<text x="648" y="139">BDLMRST</text>
<text x="58" y="221">BDLMRS</text><text x="255" y="221">BDLMRT</text><text x="451" y="221">BDLMST</text><text x="648" y="221">BDLRST</text><text x="844" y="221">BDMRST</text><text x="1041" y="221">BLMRST</text><text x="1237" y="221">DLMRST</text>
<text x="58" y="302">BDLMR</text><text x="117" y="302">BDLMS</text><text x="176" y="302">BDLMT</text><text x="235" y="302">BDLRS</text><text x="294" y="302">BDLRT</text><text x="353" y="302">BDLST</text><text x="412" y="302">BDMRS</text><text x="471" y="302">BDMRT</text><text x="530" y="302">BDMST</text><text x="589" y="302">BDRST</text><text x="648" y="302">BLMRS</text><text x="706" y="302">BLMRT</text><text x="765" y="302">BLMST</text><text x="824" y="302">BLRST</text><text x="883" y="302">BMRST</text><text x="942" y="302">DLMRS</text><text x="1001" y="302">DLMRT</text><text x="1060" y="302">DLMST</text><text x="1119" y="302">DLRST</text><text x="1178" y="302">DMRST</text><text x="1237" y="302">LMRST</text>
<text x="58" y="383">BDLM</text><text x="93" y="383">BDLR</text><text x="127" y="383">BDLS</text><text x="162" y="383">BDLT</text><text x="197" y="383">BDMR</text><text x="231" y="383">BDMS</text><text x="266" y="383">BDMT</text><text x="301" y="383">BDRS</text><text x="335" y="383">BDRT</text><text x="370" y="383">BDST</text><text x="405" y="383">BLMR</text><text x="439" y="383">BLMS</text><text x="474" y="383">BLMT</text><text x="509" y="383">BLRS</text><text x="543" y="383">BLRT</text><text x="578" y="383">BLST</text><text x="613" y="383">BMRS</text><text x="648" y="383">BMRT</text><text x="682" y="383">BMST</text><text x="717" y="383">BRST</text><text x="752" y="383">DLMR</text><text x="786" y="383">DLMS</text><text x="821" y="383">DLMT</text><text x="856" y="383">DLRS</text><text x="890" y="383">DLRT</text><text x="925" y="383">DLST</text><text x="960" y="383">DMRS</text><text x="994" y="383">DMRT</text><text x="1029" y="383">DMST</text><text x="1064" y="383">DRST</text><text x="1098" y="383">LMRS</text><text x="1133" y="383">LMRT</text><text x="1168" y="383">LMST</text><text x="1202" y="383">LRST</text><text x="1237" y="383">MRST</text>
<text x="58" y="465">BDL</text><text x="93" y="465">BDM</text><text x="127" y="465">BDR</text><text x="162" y="465">BDS</text><text x="197" y="465">BDT</text><text x="231" y="465">BLM</text><text x="266" y="465">BLR</text><text x="301" y="465">BLS</text><text x="335" y="465">BLT</text><text x="370" y="465">BMR</text><text x="405" y="465">BMS</text><text x="439" y="465">BMT</text><text x="474" y="465">BRS</text><text x="509" y="465">BRT</text><text x="543" y="465">BST</text><text x="578" y="465">DLM</text><text x="613" y="465">DLR</text><text x="648" y="465">DLS</text><text x="682" y="465">DLT</text><text x="717" y="465">DMR</text><text x="752" y="465">DMS</text><text x="786" y="465">DMT</text><text x="821" y="465">DRS</text><text x="856" y="465">DRT</text><text x="890" y="465">DST</text><text x="925" y="465">LMR</text><text x="960" y="465">LMS</text><text x="994" y="465">LMT</text><text x="1029" y="465">LRS</text><text x="1064" y="465">LRT</text><text x="1098" y="465">LST</text><text x="1133" y="465">MRS</text><text x="1168" y="465">MRT</text><text x="1202" y="465">MST</text><text x="1237" y="465">RST</text>
<text x="58" y="546">BD</text><text x="117" y="546">BL</text><text x="176" y="546">BM</text><text x="235" y="546">BR</text><text x="294" y="546">BS</text><text x="353" y="546">BT</text><text x="412" y="546">DL</text><text x="471" y="546">DM</text><text x="530" y="546">DR</text><text x="589" y="546">DS</text><text x="648" y="546">DT</text><text x="706" y="546">LM</text><text x="765" y="546">LR</text><text x="824" y="546">LS</text><text x="883" y="546">LT</text><text x="942" y="546">MR</text><text x="1001" y="546">MS</text><text x="1060" y="546">MT</text><text x="1119" y="546">RS</text><text x="1178" y="546">RT</text><text x="1237" y="546">ST</text>
<text x="58" y="627">B</text><text x="255" y="627">D</text><text x="451" y="627">L</text><text x="648" y="627">M</text><text x="844" y="627">R</text><text x="1041" y="627">S</text><text x="1237" y="627">T</text>
</g>
</svg>
